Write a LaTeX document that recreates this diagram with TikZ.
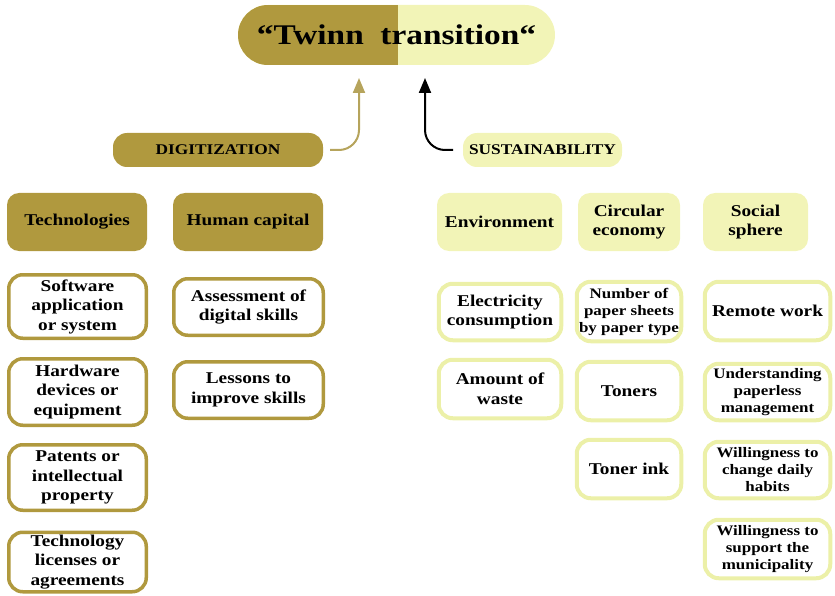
\documentclass[tikz,border=0pt]{standalone}
\usepackage{fontspec}
\setmainfont{Liberation Serif}[FakeStretch=1.17]
\usetikzlibrary{arrows.meta}
\definecolor{gold}{RGB}{176,153,62}
\definecolor{goldline}{RGB}{182,164,92}
\definecolor{lightyel}{RGB}{242,244,183}
\definecolor{yelborder}{RGB}{236,240,168}
\tikzset{
  base/.style={align=center, inner sep=0pt, font=\fontsize{16.5}{19.5}\selectfont\bfseries},
  small/.style={font=\fontsize{14.5}{17}\selectfont\bfseries},
  ghead/.style={base, fill=gold, rounded corners=12pt},
  yhead/.style={base, fill=lightyel, rounded corners=12pt},
  gitem/.style={base, draw=gold, line width=3.5pt, fill=white, rounded corners=14pt},
  yitem/.style={base, draw=yelborder, line width=4pt, fill=white, rounded corners=14pt},
  sz/.style 2 args={minimum width=#1pt, minimum height=#2pt},
  isz/.style 2 args={minimum width={#1pt-3.5pt}, minimum height={#2pt-3.5pt}},
  arr/.style={line width=2pt, rounded corners=20pt, -{Triangle[length=15pt,width=12pt]}},
}
\begin{document}
\begin{tikzpicture}[x=1pt,y=-1pt]
\useasboundingbox (0,0) rectangle (835,596);
% title
\node[base, fill=lightyel, rounded corners=30pt, sz={317}{60},
      font=\fontsize{28.5}{30}\selectfont\bfseries,
      path picture={\fill[gold, sharp corners] (path picture bounding box.south west) rectangle ([xshift=1.5pt]path picture bounding box.north);}]
  (title) at (396.5,35) {“Twinn\ \ transition“};
% level 1
\node[ghead, sz={210}{34}, rounded corners=14pt, font=\fontsize{14.8}{16}\selectfont\bfseries] (dig) at (218,150) {DIGITIZATION};
\node[yhead, sz={159}{34}, rounded corners=14pt, font=\fontsize{14.8}{16}\selectfont\bfseries] (sus) at (542.5,150) {SUSTAINABILITY};
% arrows
\coordinate (g1) at (330,150);
\coordinate (g2) at (359,78);
\coordinate (k1) at (453,150);
\coordinate (k2) at (425,78);
\draw[arr, goldline] (g1) -| (g2);
\draw[arr, black] (k1) -| (k2);
% headers
\node[ghead, sz={140}{58}] (tech) at (77,222) {Technologies};
\node[ghead, sz={150}{58}] (hum) at (248,222) {Human capital};
\node[yhead, sz={125}{58}] (env) at (499.5,222) {Environment};
\node[yhead, sz={102}{58}] (circ) at (629,222) {Circular\\economy};
\node[yhead, sz={105}{58}] (soc) at (755.5,222) {Social\\sphere};
% technologies column
\node[gitem, isz={141}{67}] (t1) at (77.5,306.5) {Software\\application\\or system};
\node[gitem, isz={141}{70}] (t2) at (77.5,392) {Hardware\\devices or\\equipment};
\node[gitem, isz={141}{69}] (t3) at (77.5,477.5) {Patents or\\intellectual\\property};
\node[gitem, isz={141}{63}] (t4) at (77.5,562) {Technology\\licenses or\\agreements};
% human capital column
\node[gitem, isz={153}{60}] (h1) at (248.5,307) {Assessment of\\digital skills};
\node[gitem, isz={153}{60}] (h2) at (248.5,390) {Lessons to\\improve skills};
% environment column
\node[yitem, isz={126}{60}] (e1) at (500,312) {Electricity\\consumption};
\node[yitem, isz={126}{62}] (e2) at (500,389) {Amount of\\waste};
% circular economy column
\node[yitem, small, isz={108}{63}] (c1) at (629,311.5) {Number of\\paper sheets\\by paper type};
\node[yitem, isz={108}{62}] (c2) at (629,391) {Toners};
\node[yitem, isz={108}{62}] (c3) at (629,469) {Toner ink};
% social sphere column
\node[yitem, isz={129}{62}] (s1) at (767.5,311) {Remote work};
\node[yitem, small, isz={129}{60}] (s2) at (767.5,392) {Understanding\\paperless\\management};
\node[yitem, small, isz={129}{60}] (s3) at (767.5,470) {Willingness to\\change daily\\habits};
\node[yitem, small, isz={129}{62}] (s4) at (767.5,549) {Willingness to\\support the\\municipality};
\end{tikzpicture}
\end{document}
